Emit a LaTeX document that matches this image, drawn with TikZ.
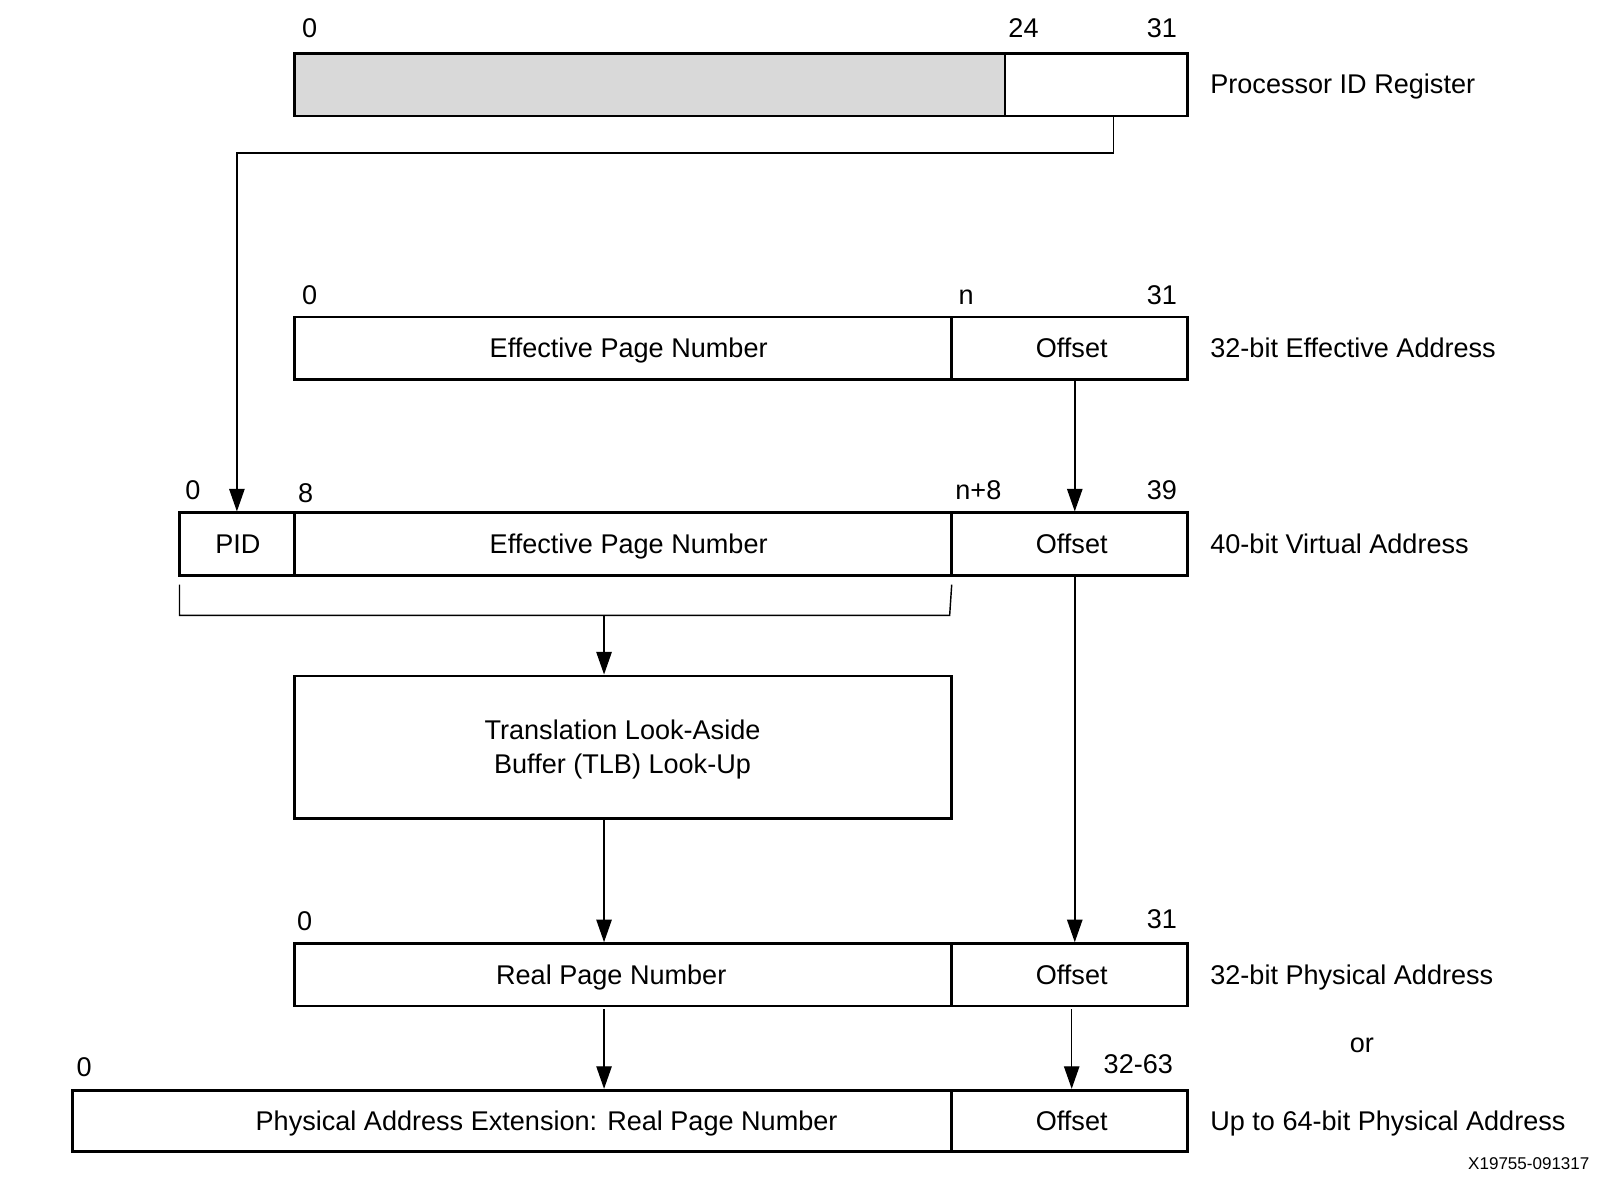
\documentclass[tikz,border=0pt]{standalone}
\usepackage{fontspec}
\setmainfont{Liberation Sans}
\usetikzlibrary{arrows.meta}
\definecolor{regfill}{RGB}{217,217,217}
\newcommand{\fsz}{\fontsize{26.4}{33}\selectfont}
\newcommand{\smallfsz}{\fontsize{16.6}{20}\selectfont}
\begin{document}
\begin{tikzpicture}[x=1pt,y=-1pt,
 field/.style={draw, line width=2.6pt, inner sep=0pt, outer sep=0pt, minimum height=61pt},
 ftext/.style={inner sep=0pt, font=\fsz, text height=19pt, text depth=0pt},
 bit/.style={inner sep=0pt, font=\fsz, anchor=base},
 side/.style={inner sep=0pt, font=\fsz, anchor=base west},
 conn/.style={line width=1.4pt, shorten >=1.3pt, -{Triangle[length=22pt,width=15pt]}},
 wire/.style={line width=1.4pt}]
\fill[white] (0,0) rectangle (1566,1149);
\useasboundingbox (0,0) rectangle (1566,1149);

% Row 1: Processor ID Register
\node[field, fill=regfill, minimum width=693pt] (pidhi) at (633.5,82.5) {};
\node[field, minimum width=178pt] (pidoff) at (1069,82.5) {};
\node[bit] (b1a) at (302,37) {0};
\node[bit] (b1b) at (998,37) {24};
\node[bit] (b1c) at (1133,37) {31};
\node[side] (s1) at (1180,91.5) {Processor ID Register};

% Row 2: Effective Address
\node[field, minimum width=641pt] (epn) at (607.5,339.5) {};
\node[field, minimum width=230pt] (eoff) at (1043,339.5) {};
\node[ftext] (tepn) at ([xshift=5.5pt]epn.center) {Effective Page Number};
\node[ftext] (teoff) at ([xshift=2pt]eoff.center) {Offset};
\node[bit] (b2a) at (302,296.5) {0};
\node[bit] (b2b) at (942,297) {n};
\node[bit] (b2c) at (1133,296.5) {31};
\node[side] (s2) at (1180,348.5) {32-bit Effective Address};

% Row 3: Virtual Address
\node[field, minimum width=112pt] (pid) at (231,530.5) {};
\node[field, minimum width=641pt] (vepn) at (607.5,530.5) {};
\node[field, minimum width=230pt] (voff) at (1043,530.5) {};
\node[ftext] (tpid) at ([xshift=1pt]pid.center) {PID};
\node[ftext] (tvepn) at ([xshift=5.5pt]vepn.center) {Effective Page Number};
\node[ftext] (tvoff) at ([xshift=2pt]voff.center) {Offset};
\node[bit] (b3a) at (188,487.5) {0};
\node[bit] (b3b) at (298,489.5) {8};
\node[bit] (b3c) at (954,487.5) {n+8};
\node[bit] (b3d) at (1133,487.5) {39};
\node[side] (s3) at (1180,539.5) {40-bit Virtual Address};

% TLB
\node[draw, line width=2.6pt, inner sep=0pt, outer sep=0pt, minimum width=641pt, minimum height=139pt] (tlb) at (607.5,728.5) {};
\node[inner sep=0pt, font=\fsz, align=center, anchor=base] (ttlb) at (607,754.5)
      {Translation Look-Aside\\Buffer (TLB) Look-Up};

% Row 4: Physical Address
\node[field, minimum width=641pt] (rpn) at (607.5,950.5) {};
\node[field, minimum width=230pt] (roff) at (1043,950.5) {};
\node[ftext] (trpn) at ([xshift=-11.5pt]rpn.center) {Real Page Number};
\node[ftext] (troff) at ([xshift=2pt]roff.center) {Offset};
\node[bit] (b4a) at (297,907.5) {0};
\node[bit] (b4b) at (1133,905.5) {31};
\node[side] (s4) at (1180,959.5) {32-bit Physical Address};
\node[bit] (orlbl) at (1328,1026) {or};

% Row 5: Extended Physical Address
\node[field, minimum width=857pt, minimum height=60pt] (xpn) at (499.5,1093) {};
\node[field, minimum width=230pt, minimum height=60pt] (xoff) at (1043,1093) {};
\node[ftext] (txpn) at ([xshift=33.5pt]xpn.center) {Physical Address Extension: Real Page Number};
\node[ftext] (txoff) at ([xshift=2pt]xoff.center) {Offset};
\node[bit] (b5a) at (82,1049.5) {0};
\node[bit] (b5b) at (1110,1046.5) {32-63};
\node[side] (s5) at (1180,1102.5) {Up to 64-bit Physical Address};
\node[inner sep=0pt, font=\smallfsz, anchor=base east] (fig) at (1550,1140) {X19755-091317};

% Connectors
\draw[conn] ([xshift=17pt]pidoff.south) -- ++(0,36) -| (pid.north);
\draw[conn] ([xshift=5pt]eoff.south) -- ([xshift=5pt]voff.north);
\draw[wire] ([yshift=-9pt]pid.south west) |- ([shift={(-2pt,-39pt)}]vepn.south east) -- ([yshift=-9pt]vepn.south east);
\coordinate (bmid) at (589,600);
\draw[conn] (bmid) -- (bmid |- tlb.north);
\draw[conn] ([xshift=-18.5pt]tlb.south) -- ([xshift=-18.5pt]rpn.north);
\draw[conn] ([xshift=5pt]voff.south) -- ([xshift=5pt]roff.north);
\draw[conn, shorten <=3pt] ([xshift=-18.5pt]rpn.south) -- ([xshift=-18.5pt]rpn.south |- xpn.north);
\draw[conn, shorten <=3pt] ([xshift=2pt]roff.south) -- ([xshift=2pt]xoff.north);
\end{tikzpicture}
\end{document}
